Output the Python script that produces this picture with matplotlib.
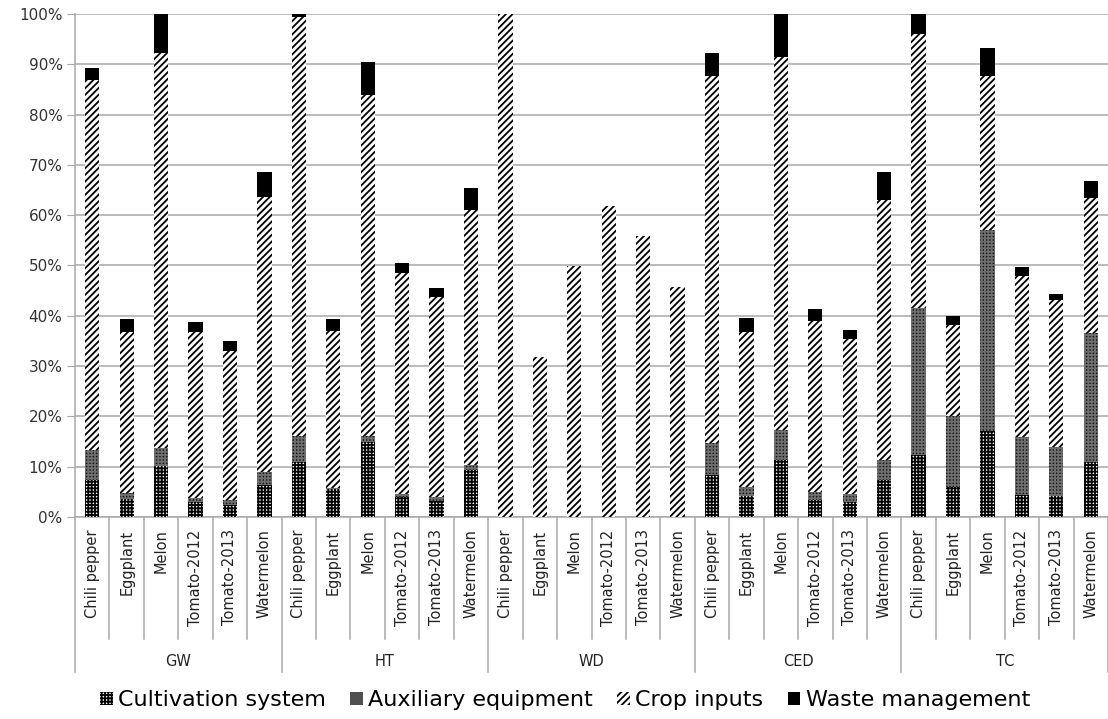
import numpy as np
import matplotlib
matplotlib.use("Agg")
import matplotlib.pyplot as plt
import matplotlib.patches as mpatches

# ── Data (percent contributions, stacked) ─────────────────────────────────────
GROUPS = ["GW", "HT", "WD", "CED", "TC"]
CROPS = ["Chili pepper", "Eggplant", "Melon", "Tomato-2012", "Tomato-2013", "Watermelon"]

cultivation = [
    7.4, 3.6, 10.2, 2.9, 2.4, 6.4,      # GW
    11.0, 5.5, 15.0, 4.0, 3.2, 9.3,     # HT
    0, 0, 0, 0, 0, 0,                   # WD
    8.4, 4.2, 11.4, 3.4, 2.9, 7.4,      # CED
    12.4, 6.0, 17.0, 4.4, 4.2, 11.0,    # TC
]
auxiliary = [
    5.9, 1.2, 3.5, 0.9, 1.0, 2.6,
    5.0, 0.3, 1.0, 0.5, 0.8, 1.0,
    0, 0, 0, 0, 0, 0,
    6.4, 1.8, 5.8, 1.6, 1.7, 4.0,
    29.2, 14.0, 40.0, 11.5, 9.8, 25.6,
]
crop_inputs = [
    73.5, 32.0, 78.6, 32.9, 29.6, 54.7,
    83.3, 31.2, 67.8, 44.0, 39.8, 50.7,
    100.0, 31.8, 49.8, 61.9, 55.9, 45.7,
    72.9, 30.8, 74.2, 34.0, 30.7, 51.6,
    54.4, 18.2, 30.7, 32.1, 29.2, 26.9,
]
waste = [
    2.5, 2.5, 7.7, 2.1, 2.0, 4.8,
    0.7, 2.3, 6.6, 2.0, 1.7, 4.3,
    0, 0, 0, 0, 0, 0,
    4.6, 2.8, 8.6, 2.3, 1.9, 5.6,
    4.0, 1.8, 5.6, 1.7, 1.2, 3.3,
]

SERIES = [
    ("Cultivation system",  cultivation, dict(facecolor="white",   edgecolor="black",   hatch="+++++")),
    ("Auxiliary equipment", auxiliary,   dict(facecolor="#151515", edgecolor="#6e6e6e", hatch="+++++")),
    ("Crop inputs",         crop_inputs, dict(facecolor="white",   edgecolor="black",   hatch="/////")),
    ("Waste management",    waste,       dict(facecolor="black",   edgecolor="black",   hatch=None)),
]

plt.rcParams["hatch.linewidth"] = 1.3
GRID = "#a8a8a8"

fig = plt.figure(figsize=(11.08, 7.19), dpi=100)
ax = fig.add_axes([0.0677, 0.281, 0.9323, 0.6996])

n = len(GROUPS) * len(CROPS)
x = np.arange(n)
bottom = np.zeros(n)
for label, vals, style in SERIES:
    vals = np.asarray(vals, dtype=float)
    ax.bar(x, vals, 0.415, bottom=bottom, linewidth=0, zorder=3, **style)
    bottom += vals

ax.set_xlim(-0.5, n - 0.5)
ax.set_ylim(0, 100)
ax.set_yticks(np.arange(0, 101, 10))
ax.set_yticklabels([f"{v}%" for v in range(0, 101, 10)], fontsize=11, color="#333333")
ax.yaxis.grid(True, color=GRID, linewidth=1.1, zorder=0)
ax.tick_params(axis="y", length=6, color=GRID, pad=3)

ax.set_xticks(x)
ax.set_xticklabels(CROPS * len(GROUPS), rotation=90, fontsize=10.5,
                   color="#222222", va="top", ha="center")
ax.tick_params(axis="x", length=0, pad=9)

for side in ["top", "right"]:
    ax.spines[side].set_visible(False)
for side in ["left", "bottom"]:
    ax.spines[side].set_color(GRID)
    ax.spines[side].set_linewidth(1.1)

# category and group separators below the axis
trans = ax.get_xaxis_transform()
for i in range(n + 1):
    xb = i - 0.5
    depth = -0.308 if i % len(CROPS) == 0 else -0.2425
    ax.plot([xb, xb], [0, depth], color=GRID, linewidth=1.1,
            transform=trans, clip_on=False)
for g, name in enumerate(GROUPS):
    xc = g * len(CROPS) + (len(CROPS) - 1) / 2
    ax.text(xc, -0.288, name, transform=trans, ha="center", va="center",
            fontsize=10.5, color="#222222")

handles = [mpatches.Patch(label=label, linewidth=0, **style) for label, _, style in SERIES]
handles[1] = mpatches.Patch(label="Auxiliary equipment", facecolor="#505050", linewidth=0)
fig.legend(handles=handles, loc="center", bbox_to_anchor=(0.51, 0.026),
           ncol=4, frameon=False, fontsize=16, handlelength=0.55,
           handleheight=0.55, handletextpad=0.25, columnspacing=1.1)

fig.savefig("out.png", dpi=100)
